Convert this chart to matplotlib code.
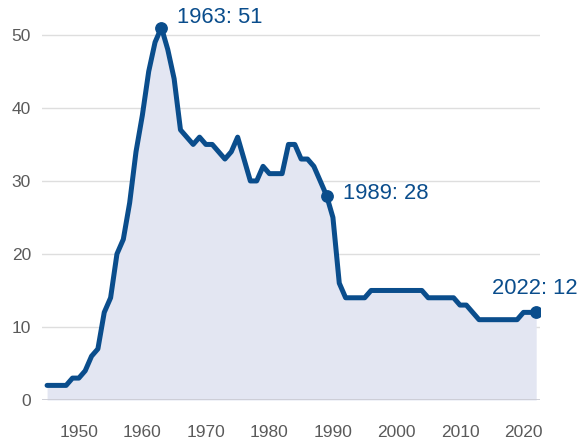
import numpy as np
import matplotlib.pyplot as plt

# 年份与数值
years = list(range(1945, 2023))
values = [2, 2, 2, 2, 3, 3, 4, 6, 7, 12,        # 1945-1954
          14, 20, 22, 27, 34, 39, 45, 49, 51, 48,  # 1955-1964
          44, 37, 36, 35, 36, 35, 35, 34, 33, 34,  # 1965-1974
          36, 33, 30, 30, 32, 31, 31, 31, 35, 35,  # 1975-1984
          33, 33, 32, 30, 28, 25, 16, 14, 14, 14,  # 1985-1994
          14, 15, 15, 15, 15, 15, 15, 15, 15, 15,  # 1995-2004
          14, 14, 14, 14, 14, 13, 13, 12, 11, 11,  # 2005-2014
          11, 11, 11, 11, 11, 12, 12, 12]          # 2015-2022
marked_years = [1963, 1989, 2022]
y_ticks = [0, 10, 20, 30, 40, 50]
x_ticks = [1950, 1960, 1970, 1980, 1990, 2000, 2010, 2020]

BLUE = '#0a4d8c'
FILL = '#e3e6f2'

plt.rcParams['font.family'] = ['Liberation Sans', 'DejaVu Sans']

fig = plt.figure(figsize=(5.8, 4.44), dpi=100)
ax = fig.add_axes([42/580, 44/444, 498/580, 387/444])

ax.fill_between(years, values, 0, color=FILL, lw=0, zorder=1)
ax.plot(years, values, color=BLUE, lw=3.6, solid_joinstyle='round',
        solid_capstyle='round', zorder=3)

# 标注点
offsets = {1963: ((11.5, 7.6), 'left'),
           1989: ((12, 1.8), 'left'),
           2022: ((29.5, 17), 'right')}
for yr in marked_years:
    v = values[years.index(yr)]
    ax.plot(yr, v, 'o', color=BLUE, ms=8.2, zorder=4)
    off, ha = offsets[yr]
    ax.annotate(f'{yr}: {v}', (yr, v), xytext=off, textcoords='offset points',
                ha=ha, va='center', color=BLUE, fontsize=15.8)

ax.set_xlim(1944.2, 2022.6)
ax.set_ylim(0, 53)
ax.set_yticks(y_ticks)
ax.set_xticks(x_ticks)
ax.grid(axis='y', color='#dedede', lw=1, zorder=0)
ax.axhline(0, color='#c9cad2', lw=1.2, zorder=2)
ax.grid(axis='x', visible=False)
for s in ax.spines.values():
    s.set_visible(False)
ax.tick_params(axis='both', length=0, labelsize=12.5, labelcolor='#5a5a5a')
ax.tick_params(axis='x', pad=18)
ax.tick_params(axis='y', pad=8)
ax.set_axisbelow(True)

fig.savefig('out.png', dpi=100)
